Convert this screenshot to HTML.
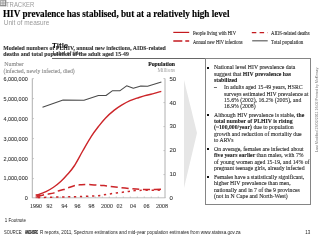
<!DOCTYPE html>
<html><head><meta charset="utf-8">
<style>
#wrap{position:absolute;left:0;top:0;width:320px;height:240px;will-change:transform;}
html,body{margin:0;padding:0;width:320px;height:240px;overflow:hidden;background:#fff;}
body{position:relative;-webkit-font-smoothing:antialiased;font-family:"Liberation Serif",serif;color:#222;}
.a{position:absolute;white-space:nowrap;line-height:1;}
.sans{font-family:"Liberation Sans",sans-serif;}
#box{position:absolute;left:205px;top:57.5px;width:106px;height:147.3px;border:1px solid #858585;box-sizing:border-box;}
.bt{position:absolute;left:213.8px;font-size:6.3px;line-height:6.45px;color:#262626;white-space:nowrap;-webkit-text-stroke:0.1px #262626;transform:scaleX(0.913);transform-origin:0 0;}
.bl{position:absolute;left:207.4px;width:1.8px;height:1.8px;background:#111;}
</style></head><body><div id="wrap">
<!-- header -->
<svg class="a" style="left:0;top:0" width="8" height="8"><rect x="0" y="0" width="6" height="6" fill="#e0e0e0"/><path d="M0.4 0.4H5.6V5.6H0.4Z M3 0.4V5.6 M0.4 3H5.6" fill="none" stroke="#9a9a9a" stroke-width="0.8"/><path d="M5.8 0V6.2M0 5.8H6.2" stroke="#777" stroke-width="0.8"/></svg>
<div class="a sans" style="left:6.2px;top:2.1px;font-size:6.6px;color:#9a9a9a;transform:scaleX(0.9);transform-origin:0 0;">TRACKER</div>
<div class="a" style="left:3.3px;top:9.55px;font-size:9.4px;font-weight:bold;color:#000;-webkit-text-stroke:0.15px #000;transform:scaleX(0.977);transform-origin:0 0;">HIV prevalence has stablised, but at a relatively high level</div>
<div class="a sans" style="left:3.8px;top:19.9px;font-size:6.45px;color:#9a9a9a;">Unit of measure</div>

<div class="a" style="left:3.2px;top:44.7px;font-size:5.8px;font-weight:bold;color:#333;line-height:6.4px;-webkit-text-stroke:0.1px #333;">Modeled numbers of PLHIV, annual new infections, AIDS-related<br>deaths and total population of the adult aged 15-49</div>
<div class="a sans" style="left:52px;top:41.6px;font-size:8px;font-weight:bold;color:#111;">Title</div>
<div class="a sans" style="left:52.5px;top:51.2px;font-size:5.6px;font-weight:bold;color:#3a3a3a;transform:scaleX(0.85);transform-origin:0 0;">Label of title</div>
<div class="a" style="left:52px;top:58px;width:153px;height:1px;background:#666;"></div>

<!-- legend -->
<svg class="a" style="left:0;top:0" width="320" height="60">
<line x1="173.3" y1="32.4" x2="189.2" y2="32.4" stroke="#c41a1f" stroke-width="1.2"/>
<line x1="173.3" y1="41" x2="189.2" y2="41" stroke="#c41a1f" stroke-width="1.4" stroke-dasharray="9,3"/>
<line x1="251.8" y1="32.6" x2="267.7" y2="32.6" stroke="#c41a1f" stroke-width="1.3" stroke-dasharray="4.5,3.3"/>
<line x1="252.2" y1="40.8" x2="267.7" y2="40.8" stroke="#606060" stroke-width="1.2"/>
</svg>
<div class="a" style="left:193px;top:30.0px;font-size:6px;color:#2a2a2a;-webkit-text-stroke:0.12px #2a2a2a;transform:scaleX(0.765);transform-origin:0 0;">People living with HIV</div>
<div class="a" style="left:193px;top:38.5px;font-size:6px;color:#2a2a2a;-webkit-text-stroke:0.12px #2a2a2a;transform:scaleX(0.747);transform-origin:0 0;">Annual new HIV infections</div>
<div class="a" style="left:271.4px;top:29.7px;font-size:6px;color:#2a2a2a;-webkit-text-stroke:0.12px #2a2a2a;transform:scaleX(0.784);transform-origin:0 0;">AIDS-related deaths</div>
<div class="a" style="left:271.4px;top:38.6px;font-size:6px;color:#2a2a2a;-webkit-text-stroke:0.12px #2a2a2a;transform:scaleX(0.82);transform-origin:0 0;">Total population</div>

<!-- chart labels -->
<div class="a" style="left:4.2px;top:62.0px;font-size:5.9px;color:#8a8a8a;-webkit-text-stroke:0.1px #8a8a8a;">Number</div>
<div class="a" style="left:3.5px;top:68.8px;font-size:5.7px;color:#8a8a8a;-webkit-text-stroke:0.1px #8a8a8a;">(infected, newly infected, died)</div>
<div class="a" style="left:139px;top:61.8px;width:36px;text-align:right;font-size:5.75px;font-weight:bold;color:#1a1a1a;-webkit-text-stroke:0.15px #1a1a1a;">Population</div>
<div class="a" style="left:139px;top:68.2px;width:36px;text-align:right;font-size:5.2px;color:#a0a0a0;">Millions</div>

<div class="a sans" style="left:0;top:76.3px;width:27.7px;text-align:right;font-size:5.45px;color:#333;-webkit-text-stroke:0.08px #333;">
<div style="height:19.82px;line-height:6px">6,000,000</div><div style="height:19.82px;line-height:6px">5,000,000</div><div style="height:19.82px;line-height:6px">4,000,000</div><div style="height:19.82px;line-height:6px">3,000,000</div><div style="height:19.82px;line-height:6px">2,000,000</div><div style="height:19.82px;line-height:6px">1,000,000</div><div style="height:19.82px;line-height:6px">0</div></div>
<div class="a sans" style="left:169.5px;top:75.9px;font-size:6px;color:#333;-webkit-text-stroke:0.08px #333;">
<div style="height:23.8px;line-height:6px">50</div><div style="height:23.8px;line-height:6px">40</div><div style="height:23.8px;line-height:6px">30</div><div style="height:23.8px;line-height:6px">20</div><div style="height:23.8px;line-height:6px">10</div><div style="height:23.8px;line-height:6px">0</div></div>

<div class="a" style="left:0;top:203.1px;font-size:6px;color:#3a3a3a;-webkit-text-stroke:0.1px #3a3a3a;">
<span class="a" style="left:30px">1990</span><span class="a" style="left:46.5px">92</span><span class="a" style="left:61.5px">94</span><span class="a" style="left:74.5px">96</span><span class="a" style="left:88.5px">98</span><span class="a" style="left:101px">2000</span><span class="a" style="left:116.5px">02</span><span class="a" style="left:130px">04</span><span class="a" style="left:143.5px">06</span><span class="a" style="left:156px">2008</span></div>

<svg class="a" style="left:0;top:0" width="320" height="240">
<polygon points="184,80 197,133 184,188" fill="#e6e6e6"/>
<line x1="32.3" y1="78.5" x2="32.3" y2="198" stroke="#b0b0b0" stroke-width="1"/>
<line x1="165" y1="78.5" x2="165" y2="198" stroke="#b0b0b0" stroke-width="1"/>
<line x1="32" y1="197.8" x2="165.5" y2="197.8" stroke="#b8b8b8" stroke-width="0.9"/>
<path d="M32.3 78.6h1.6M32.3 98.6h1.6M32.3 118.6h1.6M32.3 138.6h1.6M32.3 158.6h1.6M32.3 178.6h1.6M163.4 78.6h1.6M163.4 102.6h1.6M163.4 126.6h1.6M163.4 150.6h1.6M163.4 174.6h1.6M39.25 197.8v-1.3M46.25 197.8v-1.3M53.25 197.8v-1.3M60.25 197.8v-1.3M67.25 197.8v-1.3M74.25 197.8v-1.3M81.25 197.8v-1.3M88.25 197.8v-1.3M95.25 197.8v-1.3M102.25 197.8v-1.3M109.25 197.8v-1.3M116.25 197.8v-1.3M123.25 197.8v-1.3M130.25 197.8v-1.3M137.25 197.8v-1.3M144.25 197.8v-1.3M151.25 197.8v-1.3M158.25 197.8v-1.3" stroke="#b0b0b0" stroke-width="0.7"/>
<polyline points="42.50,107.30 63.10,100.10 84.00,100.20 98.40,95.60 106.00,95.50 112.25,90.80 119.75,90.80 126.60,85.80 133.30,88.30 140.90,85.90 147.60,86.30 161.40,81.90" fill="none" stroke="#4a4a4a" stroke-width="1.05" stroke-linejoin="round"/>
<path d="M36.30 195.30 C37.92 194.68 43.13 192.94 46.00 191.60 C48.87 190.26 51.00 188.98 53.50 187.25 C56.00 185.52 58.65 183.36 61.00 181.20 C63.35 179.04 65.40 176.83 67.60 174.30 C69.80 171.77 71.68 169.88 74.20 166.00 C76.72 162.12 79.85 155.93 82.70 151.00 C85.55 146.07 88.67 140.48 91.30 136.40 C93.93 132.32 96.15 129.53 98.50 126.50 C100.85 123.47 102.82 120.88 105.40 118.20 C107.98 115.52 111.23 112.62 114.00 110.40 C116.77 108.18 119.33 106.53 122.00 104.90 C124.67 103.27 127.50 101.72 130.00 100.60 C132.50 99.48 134.50 99.03 137.00 98.20 C139.50 97.37 142.42 96.32 145.00 95.60 C147.58 94.88 149.78 94.62 152.50 93.90 C155.22 93.18 159.83 91.73 161.30 91.30" fill="none" stroke="#cc2529" stroke-width="1.4"/>
<path d="M37.00 196.20 C38.65 195.88 44.17 194.82 46.90 194.30 C49.63 193.78 51.68 193.60 53.40 193.10 C55.12 192.60 55.48 191.90 57.20 191.30 C58.93 190.70 61.93 190.07 63.75 189.50 C65.57 188.93 66.12 188.58 68.10 187.90 C70.07 187.22 73.45 185.93 75.60 185.40 C77.75 184.87 78.93 184.87 81.00 184.70 C83.07 184.53 85.25 184.32 88.00 184.40 C90.75 184.48 94.83 185.00 97.50 185.20 C100.17 185.40 101.92 185.42 104.00 185.60 C106.08 185.78 107.33 185.98 110.00 186.30 C112.67 186.62 116.46 187.10 120.00 187.50 C123.54 187.90 127.92 188.38 131.25 188.70 C134.58 189.02 136.88 189.25 140.00 189.40 C143.12 189.55 146.35 189.63 150.00 189.60 C153.65 189.57 159.92 189.27 161.90 189.20" fill="none" stroke="#cc2529" stroke-width="1.5" stroke-dasharray="7,3.8" stroke-dashoffset="0"/>
<path d="M37.00 197.60 C41.00 197.50 54.00 197.17 61.00 197.00 C68.00 196.83 72.92 196.82 79.00 196.60 C85.08 196.38 93.38 196.00 97.50 195.70 C101.62 195.40 101.67 195.10 103.75 194.80 C105.83 194.50 107.92 194.20 110.00 193.90 C112.08 193.60 114.17 193.27 116.25 193.00 C118.33 192.73 120.42 192.57 122.50 192.30 C124.58 192.03 126.67 191.68 128.75 191.40 C130.83 191.12 132.29 190.78 135.00 190.60 C137.71 190.42 140.67 190.38 145.00 190.30 C149.33 190.22 158.33 190.13 161.00 190.10" fill="none" stroke="#cc2529" stroke-width="1.5" stroke-dasharray="2.3,3.7" stroke-dashoffset="-1"/>
<rect x="35.6" y="194" width="4.7" height="4.2" fill="#cc2529" opacity="0.7"/>
</svg>

<!-- right box -->
<div id="box"></div>
<div class="bl" style="top:66.95px"></div>
<div class="bt" style="top:64.30px">National level HIV prevalence data<br>suggest that <b>HIV prevalence has</b><br><b>stabilized</b></div>
<div class="bt" style="left:214.3px;top:84.10px">–</div>
<div class="bt" style="left:223.7px;top:84.10px">In adults aged 15-49 years, HSRC<br>surveys estimated HIV prevalence at<br>15.6% (2002), 16.2% (2005), and<br>16.9% (2008)</div>
<div class="bl" style="top:114.10px"></div>
<div class="bt" style="top:111.50px">Although HIV prevalence is stable, <b>the</b><br><b>total number of PLHIV is rising</b><br><b>(~100,000/year)</b> due to population<br>growth and reduction of mortality due<br>to ARVs</div>
<div class="bl" style="top:148.40px"></div>
<div class="bt" style="top:145.80px">On average, females are infected about<br><b>five years earlier</b> than males, with 7%<br>of young women aged 15-19, and 14% of<br>pregnant teenage girls, already infected</div>
<div class="bl" style="top:176.20px"></div>
<div class="bt" style="top:173.60px">Females have a statistically significant,<br>higher HIV prevalence than men,<br>nationally and in 7 of the 9 provinces<br>(not in N Cape and North-West)</div>

<!-- vertical note -->
<div class="a sans" style="left:315.6px;top:152px;font-size:3.8px;color:#707070;transform:rotate(-90deg) scaleX(0.955);transform-origin:0 0;">Last Modified 23/02/2011 16:02 Printed by McKinsey</div>

<!-- footer -->
<div class="a sans" style="left:4.8px;top:218.6px;font-size:4.45px;color:#222;">1 Footnote</div>
<div class="a sans" style="left:4.2px;top:230.7px;font-size:4.5px;color:#222;transform:scaleX(0.9);transform-origin:0 0;">SOURCE:</div>
<div class="a sans" style="left:25.3px;top:230.5px;font-size:4.6px;font-weight:bold;color:#222;-webkit-text-stroke:0.2px #222;letter-spacing:-0.3px;transform:scaleX(0.62);transform-origin:0 0;">ANCHSRC</div>
<div class="a sans" style="left:40px;top:230.7px;font-size:4.58px;color:#222;">R reports, 2011, Spectrum estimations and mid-year population estimates from www.statssa.gov.za</div>
<div class="a sans" style="left:305.2px;top:230.7px;font-size:4.5px;color:#222;">13</div>
</div></body></html>
